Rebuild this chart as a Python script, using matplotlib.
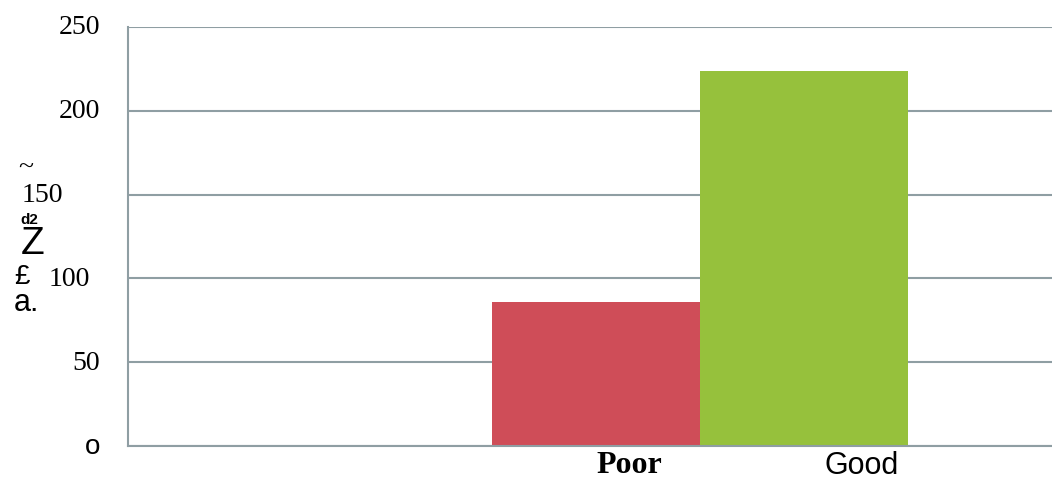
import matplotlib
matplotlib.use("Agg")
import matplotlib.pyplot as plt

# data
categories = ["Poor", "Good"]
values = [86, 224]
bar_colors = ["#cf4d58", "#96c13c"]
ytick_values = [0, 50, 100, 150, 200, 250]
ytick_labels = ["o", "50", "100", "150", "200", "250"]

GRID = "#8f9ea3"
W, H = 1052, 481

fig = plt.figure(figsize=(W / 100, H / 100), dpi=100)
ax = fig.add_axes([128 / W, 34 / H, 924 / W, 419 / H])

# bars sit side by side, one unit wide each
pos = list(range(len(categories)))
ax.bar(pos, values, width=1.0, color=bar_colors, zorder=2)

ax.set_xlim(-2.252, 2.19)
ax.set_ylim(0, 250)
ax.set_yticks(ytick_values)
ax.set_yticklabels([])
ax.set_xticks([])
ax.tick_params(length=0)
ax.yaxis.grid(True, color=GRID, linewidth=1.5, zorder=0)
ax.set_axisbelow(True)
for side in ["top", "right"]:
    ax.spines[side].set_visible(False)
for side in ["left", "bottom"]:
    ax.spines[side].set_color(GRID)
    ax.spines[side].set_linewidth(1.5)

# y tick labels, placed by hand because the scan shifted some of them
ytr = ax.get_yaxis_transform()
label_x = {"o": -0.0303, "50": -0.0303, "100": -0.0411, "150": -0.0703,
           "200": -0.0303, "250": -0.0303}
for v, lab in zip(ytick_values, ytick_labels):
    if lab == "o":
        ax.text(label_x[lab], v, lab, transform=ytr, ha="right", va="center",
                fontsize=20, family="Liberation Sans")
    else:
        ax.text(label_x[lab], v, lab, transform=ytr, ha="right", va="center",
                fontsize=20, family="Liberation Serif")

# category labels
xtr = ax.get_xaxis_transform()
ax.text(pos[0] + 0.16, -0.045, categories[0], transform=xtr, ha="center",
        va="center", fontsize=23, family="Liberation Serif", fontweight="bold")
ax.text(pos[1] + 0.276, -0.045, categories[1], transform=xtr, ha="center",
        va="center", fontsize=22, family="Liberation Sans")

# garbled axis title fragments
def ftext(x, y, s, **kw):
    fig.text(x / W, 1 - y / H, s, ha="center", va="center", **kw)

ftext(26, 168, "~", fontsize=20, family="Liberation Serif")
ftext(29, 220, "d2", fontsize=11, family="Liberation Sans", fontweight="bold")
ftext(33, 244, "Z", fontsize=28, family="Liberation Sans")
ftext(22, 277, "£", fontsize=20, family="Liberation Sans")
ftext(26, 303, "a.", fontsize=22, family="Liberation Sans")

fig.savefig("out.png", dpi=100)
